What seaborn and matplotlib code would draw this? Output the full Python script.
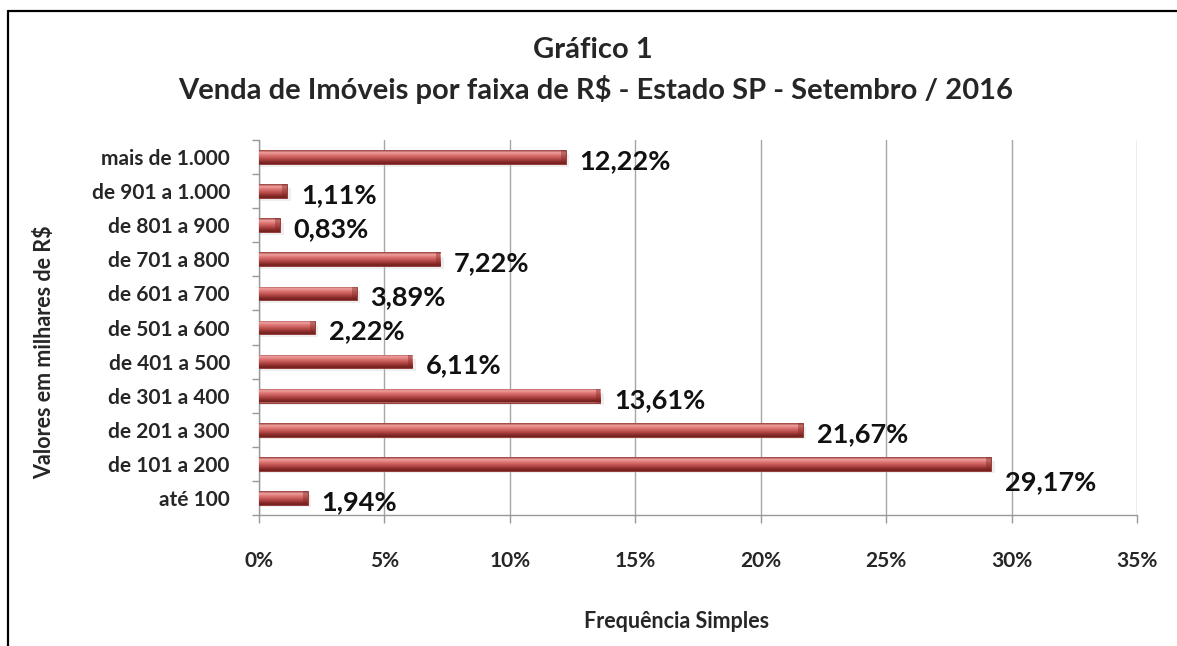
import numpy as np
import pandas as pd
import matplotlib
matplotlib.use("Agg")
import matplotlib.pyplot as plt
from matplotlib.lines import Line2D
from matplotlib.colors import LinearSegmentedColormap
import seaborn as sns

categories = ["mais de 1.000", "de 901 a 1.000", "de 801 a 900", "de 701 a 800",
              "de 601 a 700", "de 501 a 600", "de 401 a 500", "de 301 a 400",
              "de 201 a 300", "de 101 a 200", "até 100"]
values = [12.22, 1.11, 0.83, 7.22, 3.89, 2.22, 6.11, 13.61, 21.67, 29.17, 1.94]
value_labels = ["12,22%", "1,11%", "0,83%", "7,22%", "3,89%", "2,22%", "6,11%",
                "13,61%", "21,67%", "29,17%", "1,94%"]
x_ticks = [0, 5, 10, 15, 20, 25, 30, 35]
x_tick_labels = ["0%", "5%", "10%", "15%", "20%", "25%", "30%", "35%"]

sns.set_theme(style="white")
plt.rcParams['font.family'] = ['Lato', 'DejaVu Sans']

df = pd.DataFrame({"faixa": categories, "freq": values})

fig = plt.figure(figsize=(11.77, 6.46), dpi=100)
ax = fig.add_axes([259/1177, 1 - 515/646, (1137-259)/1177, (515-140)/646])

sns.barplot(data=df, y="faixa", x="freq", orient="h", color="#C0504D",
            width=0.4, ax=ax, edgecolor="#8A2E2C", linewidth=0.6, zorder=3)

ax.set_xlim(0, 35)
ylim = ax.get_ylim()

# 3D-like gradient shading on bars
grad_cols = ["#8F3533", "#F2A6A4", "#E07A77", "#C9605D", "#B04542", "#8A2C2A", "#6E1F1D"]
cmap = LinearSegmentedColormap.from_list("bar3d", grad_cols)
grad = np.linspace(0, 1, 64).reshape(-1, 1)
for p in ax.patches:
    x0, y0, w, h = p.get_x(), p.get_y(), p.get_width(), p.get_height()
    # soft shadow
    ax.add_patch(plt.Rectangle((x0 + 0.05, y0 + h * 0.3), w + 0.1, h * 0.9,
                               color="#C8C8C8", alpha=0.3, zorder=2, lw=0))
    im = ax.imshow(grad, cmap=cmap, aspect="auto", extent=(x0, x0 + w, y0 + h, y0),
                   origin="upper", zorder=4, interpolation="bicubic")
    im.set_clip_path(p)
    # bevelled end cap
    cap_w = min(0.18, w * 0.25)
    ax.add_patch(plt.Rectangle((x0 + w - cap_w, y0), cap_w, h, color="#7A2624",
                               alpha=0.4, zorder=5, lw=0))
ax.set_ylim(ylim)
ax.set_xlim(0, 35)

# data labels
for i, (v, lab) in enumerate(zip(values, value_labels)):
    dy = -4
    if lab == "29,17%":
        dy = -18
    ax.annotate(lab, xy=(v, i), xytext=(14, dy), textcoords="offset pixels",
                ha="left", va="center", fontsize=19.5, fontweight="bold",
                color="#111111", zorder=6)

# axes styling
ax.set_xticks(x_ticks)
ax.set_xticklabels(x_tick_labels, fontsize=15, fontweight="bold")
ax.set_yticks(range(len(categories)))
ax.set_yticklabels(categories, fontsize=15, fontweight="bold")
ax.set_yticks(np.arange(-0.5, len(categories), 1), minor=True)
ax.tick_params(axis="y", which="major", length=0, pad=21)
ax.tick_params(axis="y", which="minor", length=5, color="#999999", width=1, direction="out", left=True)
ax.tick_params(axis="x", which="major", length=6, color="#999999", width=1, direction="out",
               bottom=True, pad=20)
ax.grid(axis="x", color="#A6A6A6", linewidth=1, zorder=0)
ax.set_axisbelow(True)
for s in ["top", "right"]:
    ax.spines[s].set_visible(False)
for s in ["left", "bottom"]:
    ax.spines[s].set_color("#999999")
    ax.spines[s].set_linewidth(1)

ax.set_xlabel("")
ax.set_ylabel("")
fig.text(677/1177, 1 - 621/646, "Frequência Simples", ha="center", va="center",
         fontsize=15.5, fontweight="bold")
fig.text(45/1177, 1 - 352/646, "Valores em milhares de R$", ha="center", va="center",
         rotation=90, fontsize=15.5, fontweight="bold")

fig.text(593/1177, 1 - 50/646, "Gráfico 1", ha="center", va="center",
         fontsize=21, fontweight="bold")
fig.text(596/1177, 1 - 90/646, "Venda de Imóveis por faixa de R$ - Estado SP - Setembro / 2016",
         ha="center", va="center", fontsize=21, fontweight="bold")

# chart frame (partial border)
fig.add_artist(Line2D([8/1177, 1], [1 - 10.5/646, 1 - 10.5/646], color="black", lw=1.6,
                      transform=fig.transFigure))
fig.add_artist(Line2D([8/1177, 8/1177], [0, 1 - 10.5/646], color="black", lw=1.6,
                      transform=fig.transFigure))

fig.savefig("out.png", dpi=100, facecolor="white")
